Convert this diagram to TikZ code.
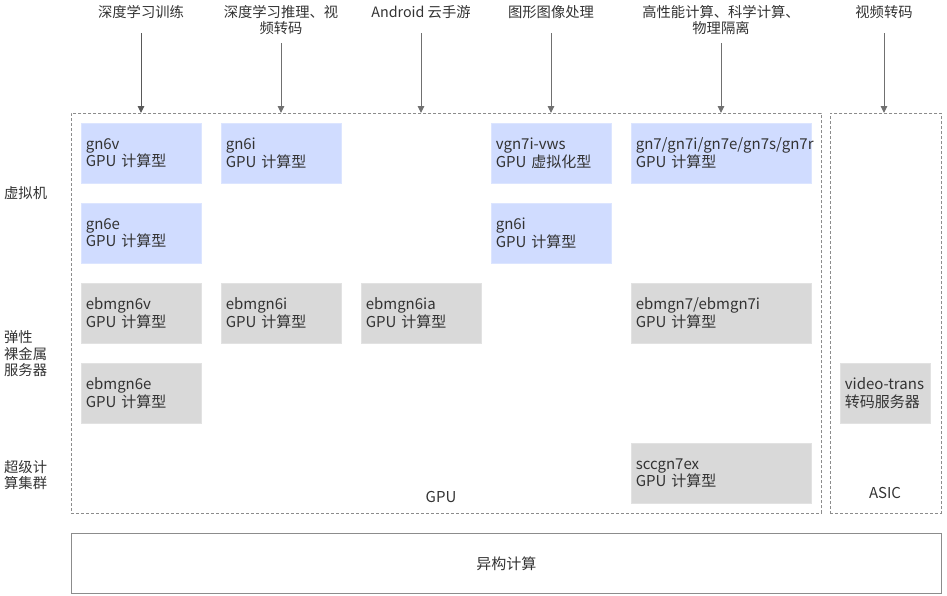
\documentclass[tikz,border=0pt]{standalone}
\usepackage{fontspec}
\setmainfont{Noto Sans CJK SC}
\usetikzlibrary{arrows.meta}
\definecolor{bluefill}{HTML}{D0DCFF}
\definecolor{bluedraw}{HTML}{DCE5FF}
\definecolor{grayfill}{HTML}{D9D9D9}
\definecolor{graydraw}{HTML}{E2E2E2}
\definecolor{txt}{HTML}{333333}
\definecolor{dashc}{HTML}{8C8C8C}
\definecolor{arrc}{HTML}{707070}
\tikzset{
  boxfont/.style={font=\fontsize{15}{17.5}\selectfont, text=txt},
  lblfont/.style={font=\fontsize{14.3}{16.5}\selectfont, text=txt},
  box/.style={boxfont, anchor=north west, minimum height=60pt, inner xsep=4.5pt, inner ysep=0pt, align=left, line width=0.6pt},
  bluebox/.style={box, fill=bluefill, draw=bluedraw},
  graybox/.style={box, fill=grayfill, draw=graydraw},
  dashbox/.style={draw=dashc, dash pattern=on 3pt off 2pt, line width=0.7pt, anchor=north west, inner sep=0pt},
  lbl/.style={lblfont, align=center, inner sep=0pt},
  side/.style={lblfont, align=left, anchor=west, inner sep=0pt},
  arr/.style={draw=arrc, line width=1pt, -{Triangle[width=6.5pt,length=7pt]}},
}
\begin{document}
\begin{tikzpicture}[x=1pt,y=-1pt]
\useasboundingbox (0,0) rectangle (947,595);
% frames
\node[dashbox, minimum width=750pt, minimum height=400pt] (gpu) at (71,113) {};
\node[dashbox, minimum width=111pt, minimum height=400pt] (asic) at (830,113) {};
\node[draw=dashc, line width=0.8pt, anchor=north west, minimum width=870pt, minimum height=60pt, boxfont] (het) at (71,533) {异构计算};
\node[boxfont, inner sep=0pt] (gpul) at (441,497) {GPU};
\node[boxfont, inner sep=0pt] (asicl) at (885,493) {ASIC};
% blue boxes
\node[bluebox, text width=111pt] (b1) at (81,123) {gn6v\\GPU 计算型};
\node[bluebox, text width=111pt] (b2) at (221,123) {gn6i\\GPU 计算型};
\node[bluebox, text width=111pt] (b3) at (491,123) {vgn7i-vws\\GPU 虚拟化型};
\node[bluebox, text width=171pt] (b4) at (631,123) {gn7/gn7i/gn7e/gn7s/gn7r\\GPU 计算型};
\node[bluebox, text width=111pt] (b5) at (81,203) {gn6e\\GPU 计算型};
\node[bluebox, text width=111pt] (b6) at (491,203) {gn6i\\GPU 计算型};
% gray boxes
\node[graybox, text width=111pt] (g1) at (81,283) {ebmgn6v\\GPU 计算型};
\node[graybox, text width=111pt] (g2) at (221,283) {ebmgn6i\\GPU 计算型};
\node[graybox, text width=111pt] (g3) at (361,283) {ebmgn6ia\\GPU 计算型};
\node[graybox, text width=171pt] (g4) at (631,283) {ebmgn7/ebmgn7i\\GPU 计算型};
\node[graybox, text width=111pt] (g5) at (81,363) {ebmgn6e\\GPU 计算型};
\node[graybox, text width=171pt] (g6) at (631,443) {sccgn7ex\\GPU 计算型};
\node[graybox, text width=81pt] (g7) at (840,363) {video-trans\\转码服务器};
% side labels
\node[side] (s1) at (4,193) {虚拟机};
\node[side] (s2) at (4,354) {弹性\\裸金属\\服务器};
\node[side] (s3) at (4,475) {超级计\\算集群};
% top labels
\node[lbl] (t1) at (141,12) {深度学习训练};
\node[lbl] (t2) at (281,20) {深度学习推理、视\\频转码};
\node[lbl] (t3) at (421,12) {Android 云手游};
\node[lbl] (t4) at (551,12) {图形图像处理};
\node[lbl] (t5) at (721,20) {高性能计算、科学计算、\\物理隔离};
\node[lbl] (t6) at (884,12) {视频转码};
% arrow starts
\coordinate (a1) at (141,33);
\coordinate (a2) at (281,43);
\coordinate (a3) at (421,33);
\coordinate (a4) at (551,33);
\coordinate (a5) at (721,43);
\coordinate (a6) at (884,33);
\draw[arr, draw=black!65] (a1) -- (a1 |- gpu.north);
\draw[arr] (a2) -- (a2 |- gpu.north);
\draw[arr] (a3) -- (a3 |- gpu.north);
\draw[arr] (a4) -- (a4 |- gpu.north);
\draw[arr] (a5) -- (a5 |- gpu.north);
\draw[arr] (a6) -- (a6 |- asic.north);
\end{tikzpicture}
\end{document}
